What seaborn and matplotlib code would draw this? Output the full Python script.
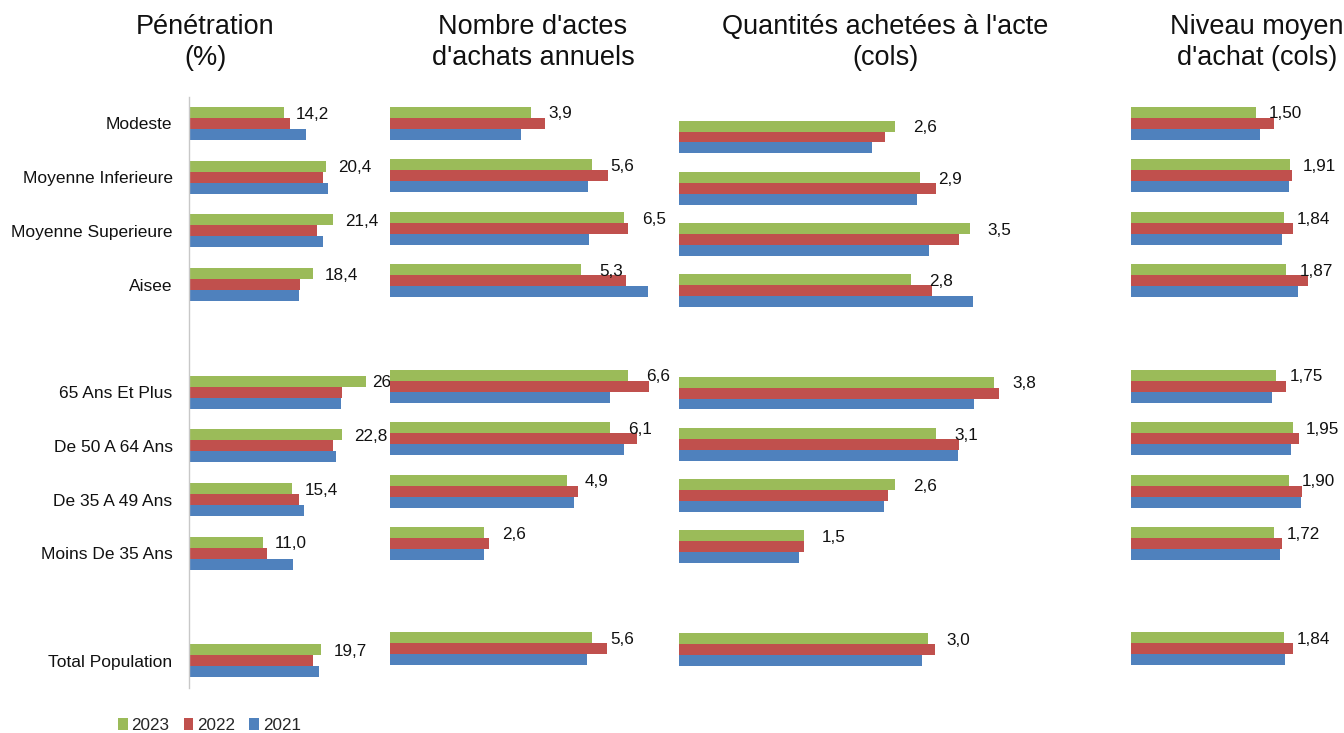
import matplotlib
matplotlib.use("Agg")
import matplotlib.pyplot as plt
import numpy as np
import pandas as pd
import seaborn as sns

# ---- data ---------------------------------------------------------------
categories = ["Modeste", "Moyenne Inferieure", "Moyenne Superieure", "Aisee",
              "65 Ans Et Plus", "De 50 A 64 Ans", "De 35 A 49 Ans",
              "Moins De 35 Ans", "Total Population"]
years = ["2023", "2022", "2021"]

penetration_2023 = [14.2, 20.4, 21.4, 18.4, 26.4, 22.8, 15.4, 11.0, 19.7]
penetration_2022 = [15.0, 19.9, 19.0, 16.5, 22.8, 21.5, 16.4, 11.7, 18.5]
penetration_2021 = [17.4, 20.7, 20.0, 16.4, 22.6, 21.9, 17.2, 15.5, 19.3]

actes_2023 = [3.9, 5.6, 6.5, 5.3, 6.6, 6.1, 4.9, 2.6, 5.6]
actes_2022 = [4.30, 6.04, 6.61, 6.56, 7.18, 6.84, 5.22, 2.74, 6.02]
actes_2021 = [3.64, 5.48, 5.51, 7.16, 6.09, 6.50, 5.10, 2.62, 5.46]

quantites_2023 = [2.6, 2.9, 3.5, 2.8, 3.8, 3.1, 2.6, 1.5, 3.0]
quantites_2022 = [2.48, 3.10, 3.37, 3.05, 3.85, 3.37, 2.52, 1.50, 3.08]
quantites_2021 = [2.33, 2.87, 3.01, 3.54, 3.56, 3.36, 2.47, 1.45, 2.93]

niveau_2023 = [1.50, 1.91, 1.84, 1.87, 1.75, 1.95, 1.90, 1.72, 1.84]
niveau_2022 = [1.72, 1.94, 1.95, 2.13, 1.86, 2.02, 2.06, 1.82, 1.95]
niveau_2021 = [1.55, 1.90, 1.82, 2.01, 1.70, 1.93, 2.05, 1.79, 1.85]

titles = [("Pénétration", "(%)"),
          ("Nombre d'actes", "d'achats annuels"),
          ("Quantités achetées à l'acte", "(cols)"),
          ("Niveau moyen", "d'achat (cols)")]

series = [
    (penetration_2023, penetration_2022, penetration_2021),
    (actes_2023, actes_2022, actes_2021),
    (quantites_2023, quantites_2022, quantites_2021),
    (niveau_2023, niveau_2022, niveau_2021),
]

# ---- styling ------------------------------------------------------------
sns.set_style("white")
plt.rcParams["font.family"] = ["Liberation Sans", "DejaVu Sans"]

palette = {"2023": "#9BBB59", "2022": "#C0504D", "2021": "#4F81BD"}
# category order with two empty slots separating the groups
order = categories[:4] + [" "] + categories[4:8] + ["  "] + [categories[8]]
slot_of = {c: order.index(c) for c in categories}

W, H = 1344, 733
fig = plt.figure(figsize=(W / 100, H / 100), dpi=100)

# pixel boxes (left, top, right, bottom), px per unit, label gap, group width, decimals
layout = [
    dict(box=(188.5, 96.6, 385.0, 687.6), ppu=6.74, gap=12, width=0.614, dec=1, cap=27.2),
    dict(box=(390.0, 97.0, 670.0, 675.1), ppu=36.05, gap=18, width=0.628, dec=1, cap=None),
    dict(box=(679.0, 111.4, 1100.0, 674.9), ppu=83.0, gap=18, width=0.638, dec=1, cap=None),
    dict(box=(1130.7, 97.0, 1400.0, 675.1), ppu=83.25, gap=13, width=0.628, dec=2, cap=None),
]
title_x = [205, 533, 885, 1257]

handles = labels = None
for i, (lay, vals) in enumerate(zip(layout, series)):
    l, t, r, b = lay["box"]
    ax = fig.add_axes([l / W, 1 - b / H, (r - l) / W, (b - t) / H])
    ax.set_facecolor("white")

    df = pd.DataFrame({
        "cat": categories * 3,
        "annee": [y for y in years for _ in categories],
        "val": list(vals[0]) + list(vals[1]) + list(vals[2]),
    })
    sns.barplot(data=df, y="cat", x="val", hue="annee", order=order,
                hue_order=years, palette=palette, orient="h",
                width=lay["width"], errorbar=None, saturation=1,
                linewidth=0, ax=ax, legend=(i == 0))
    if i == 0:
        handles, labels = ax.get_legend_handles_labels()
        ax.get_legend().remove()

    xmax = (r - l) / lay["ppu"]
    ax.set_xlim(0, xmax)
    ax.set_ylim(len(order) - 0.5, -0.5)
    ax.set_xlabel("")
    ax.set_ylabel("")
    ax.set_xticks([])
    for s in ax.spines.values():
        s.set_visible(False)

    if i == 0:
        ax.spines["left"].set_visible(True)
        ax.spines["left"].set_color("#C8C8C8")
        ax.spines["left"].set_linewidth(1.0)
        ax.set_yticks([slot_of[c] for c in categories])
        ax.set_yticklabels(categories, fontsize=12.5, color="#111111")
        ax.tick_params(axis="y", length=0, pad=11.5)
    else:
        ax.set_yticks([])

    # value labels for the latest year, next to the green bars
    for c, v in zip(categories, vals[0]):
        y = slot_of[c] - lay["width"] / 3
        x = v + lay["gap"] / lay["ppu"]
        if lay["cap"] is not None:
            x = min(x, lay["cap"])
        txt = f"{v:.{lay['dec']}f}".replace(".", ",")
        ax.annotate(txt, xy=(x, y), xytext=(0, -1.2), textcoords="offset points",
                    ha="left", va="center", fontsize=12.3, color="#111111",
                    annotation_clip=False)

    l1, l2 = titles[i]
    fig.text(title_x[i] / W, 1 - 27 / H, l1, ha="center", va="center",
             fontsize=19.5, color="#111111")
    fig.text(title_x[i] / W, 1 - 58 / H, l2, ha="center", va="center",
             fontsize=19.5, color="#111111")

fig.legend(handles, labels, loc="center left",
           bbox_to_anchor=(117.7 / W, 1 - 725.5 / H), ncol=3, frameon=False,
           fontsize=12.3, handlelength=0.58, handleheight=0.62,
           handletextpad=0.2, columnspacing=0.85, borderpad=0, borderaxespad=0)

fig.savefig("out.png", dpi=100, facecolor="white")
